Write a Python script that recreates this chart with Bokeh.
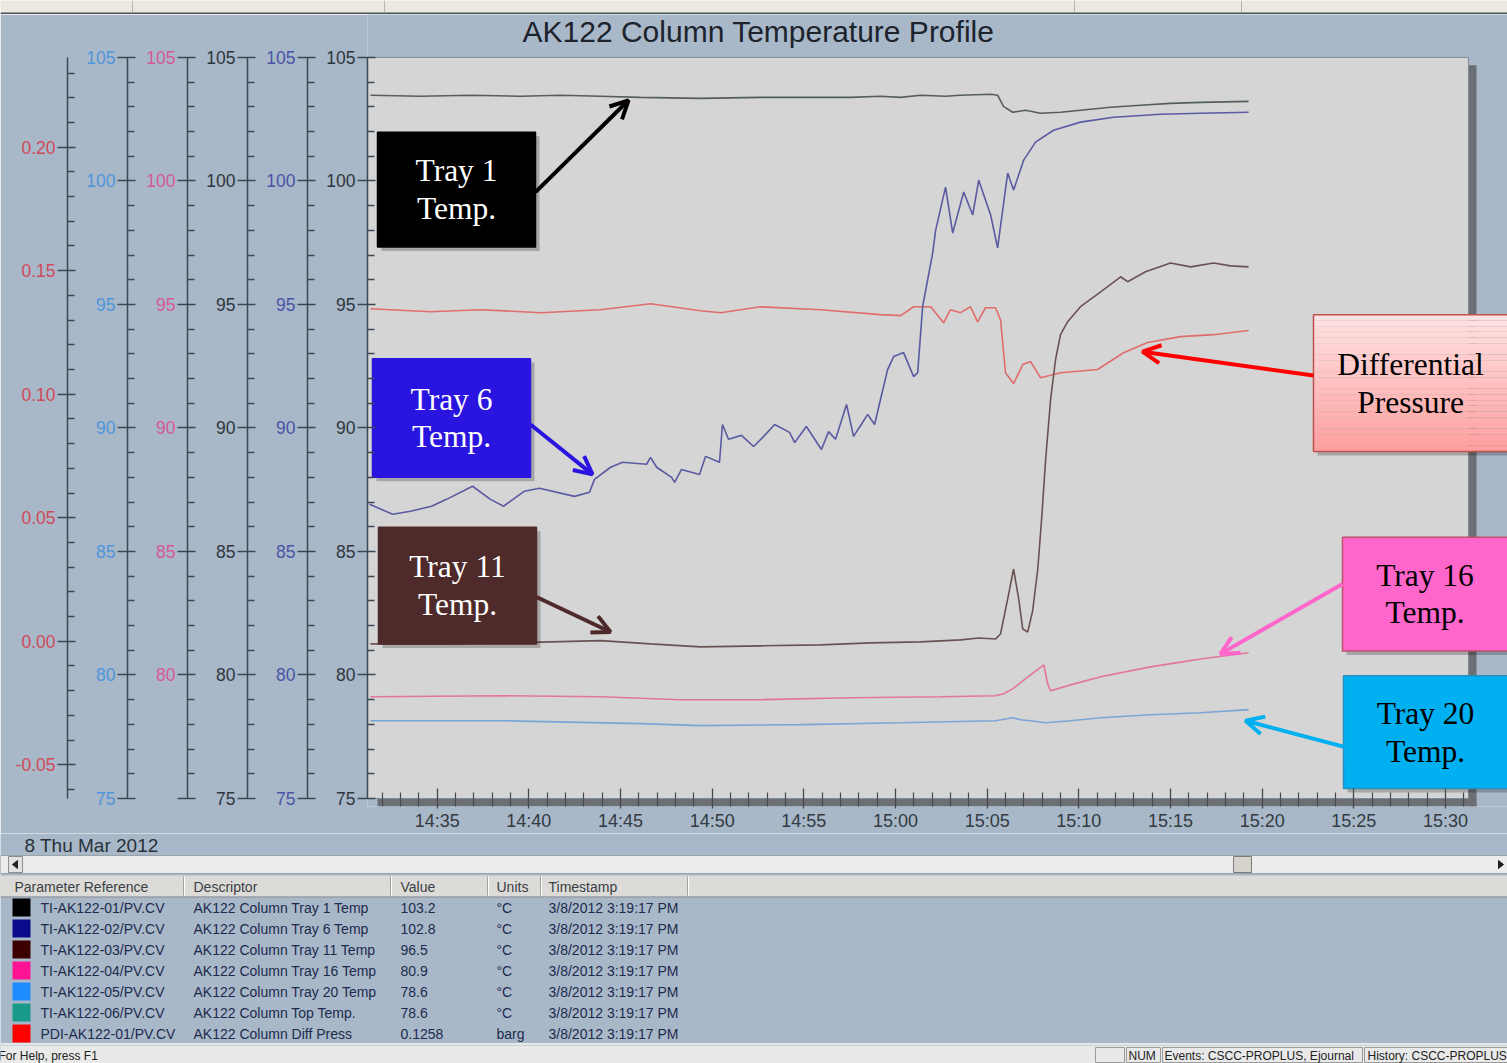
import pandas as pd
from bokeh.plotting import figure
from bokeh.models import (Range1d, LinearAxis, FixedTicker, DatetimeTickFormatter,
                          PrintfTickFormatter, Arrow, OpenHead)
from bokeh.core.properties import value
from bokeh.embed import file_html
from bokeh.resources import INLINE

# ---------------------------------------------------------------- data
title_text = "AK122 Column Temperature Profile"
date_text = "8 Thu Mar 2012"

# time = minutes after 14:00 on 8 Mar 2012
tray1_min = [31.36, 34.09, 36.82, 39.54, 41.73, 43.91, 46.09, 49.36, 52.64, 54.82, 57.55, 59.18,
             60.28, 61.37, 62.73, 63.55, 65.19, 65.57, 65.89, 66.39, 67.10, 67.91, 69.00, 70.09,
             71.73, 73.37, 75.00, 76.64, 79.26]
tray1_val = [103.47, 103.43, 103.47, 103.43, 103.47, 103.43, 103.38, 103.34, 103.38, 103.38, 103.38,
             103.43, 103.38, 103.47, 103.43, 103.47, 103.51, 103.47, 103.02, 102.78, 102.86, 102.74,
             102.78, 102.86, 102.98, 103.06, 103.14, 103.18, 103.22]

tray6_min = [31.31, 32.57, 33.55, 34.69, 35.51, 36.93, 37.91, 38.62, 39.76, 40.58, 42.49, 43.31,
             43.58, 44.46, 45.11, 46.42, 46.64, 46.97, 47.79, 47.95, 48.33, 49.31, 49.64, 50.40,
             50.56, 50.89, 51.60, 52.26, 52.80, 53.41, 54.22, 54.50, 55.14, 55.96, 56.35, 56.73,
             57.33, 57.71, 58.10, 58.48, 58.86, 59.18, 59.57, 59.90, 60.44, 60.99, 61.21, 61.48,
             62.03, 62.19, 62.73, 63.12, 63.72, 64.21, 64.54, 65.19, 65.57, 66.12, 66.44, 66.99,
             67.64, 68.62, 70.09, 71.89, 74.46, 76.64, 79.26]
tray6_val = [86.91, 86.51, 86.63, 86.83, 87.11, 87.64, 87.11, 86.83, 87.44, 87.56, 87.23, 87.40,
             87.92, 88.41, 88.61, 88.53, 88.81, 88.41, 88.00, 87.80, 88.32, 88.12, 88.85, 88.61,
             90.14, 89.54, 89.70, 89.25, 89.65, 90.14, 89.82, 89.41, 90.06, 89.13, 89.85, 89.54,
             90.95, 89.66, 90.10, 90.55, 90.14, 91.15, 92.36, 92.89, 93.05, 92.08, 92.24, 94.91,
             97.09, 98.01, 99.75, 97.89, 99.55, 98.62, 100.03, 98.62, 97.29, 100.32, 99.63, 100.84,
             101.57, 102.05, 102.38, 102.58, 102.70, 102.74, 102.78]

tray11_min = [31.36, 35.73, 39.54, 43.91, 46.64, 49.36, 52.64, 55.91, 58.64, 61.37, 63.55, 64.54,
              65.46, 65.73, 66.12, 66.44, 66.72, 66.94, 67.21, 67.48, 67.76, 67.97, 68.19, 68.46,
              68.73, 69.00, 69.39, 70.09, 71.19, 72.28, 72.66, 73.64, 75.00, 76.10, 77.35, 78.28,
              79.26]
tray11_val = [81.26, 81.26, 81.31, 81.39, 81.26, 81.14, 81.18, 81.22, 81.30, 81.34, 81.42, 81.50,
              81.46, 81.66, 83.08, 84.29, 83.08, 81.86, 81.74, 82.59, 84.29, 86.31, 88.73, 91.15,
              92.77, 93.78, 94.30, 94.91, 95.51, 96.12, 95.92, 96.32, 96.68, 96.52, 96.68, 96.56,
              96.52]

tray16_min = [31.36, 38.46, 43.91, 48.28, 52.64, 57.55, 62.46, 65.46, 65.89, 66.39, 67.10, 68.09,
              68.30, 68.46, 69.55, 71.19, 73.91, 76.64, 79.26]
tray16_val = [79.12, 79.16, 79.12, 79.00, 79.00, 79.08, 79.12, 79.16, 79.24, 79.44, 79.85, 80.41,
              79.64, 79.36, 79.60, 79.93, 80.33, 80.65, 80.90]

tray20_min = [31.36, 38.46, 46.09, 49.36, 54.82, 60.28, 65.46, 66.39, 66.83, 67.37, 68.19, 69.55,
              71.19, 73.91, 76.64, 79.26]
tray20_val = [78.15, 78.15, 78.03, 77.95, 77.99, 78.07, 78.15, 78.27, 78.19, 78.15, 78.07, 78.15,
              78.27, 78.39, 78.47, 78.60]

dp_min = [31.36, 34.64, 37.37, 40.64, 43.91, 46.64, 49.36, 50.46, 52.64, 55.91, 59.18, 60.28,
          60.99, 61.92, 62.62, 63.00, 63.55, 64.09, 64.48, 64.91, 65.46, 65.73, 66.00, 66.44,
          66.94, 67.37, 67.91, 69.00, 71.02, 72.44, 73.75, 75.55, 77.35, 79.26]
dp_val = [0.1346, 0.1334, 0.1342, 0.1330, 0.1342, 0.1366, 0.1338, 0.1330, 0.1354, 0.1342, 0.1322,
          0.1318, 0.1354, 0.1354, 0.1289, 0.1342, 0.1330, 0.1354, 0.1293, 0.1350, 0.1350, 0.1301,
          0.1087, 0.1043, 0.1120, 0.1132, 0.1067, 0.1087, 0.1100, 0.1168, 0.1209, 0.1233, 0.1241,
          0.1258]

temp_major = [75, 80, 85, 90, 95, 100, 105]
temp_minor = [v for v in range(76, 105) if v % 5]
dp_major = [-0.05, 0.0, 0.05, 0.10, 0.15, 0.20]
dp_minor = [i / 100 for i in range(-6, 24) if i % 5]
time_major_min = list(range(35, 91, 5))          # 14:35 ... 15:30
time_minor_min = [m for m in range(32, 92) if m % 5]

param_refs = ["TI-AK122-01/PV.CV", "TI-AK122-02/PV.CV", "TI-AK122-03/PV.CV", "TI-AK122-04/PV.CV",
              "TI-AK122-05/PV.CV", "TI-AK122-06/PV.CV", "PDI-AK122-01/PV.CV"]
descriptors = ["AK122 Column Tray 1 Temp", "AK122 Column Tray 6 Temp", "AK122 Column Tray 11 Temp",
               "AK122 Column Tray 16 Temp", "AK122 Column Tray 20 Temp", "AK122 Column Top Temp.",
               "AK122 Column Diff Press"]
cur_values = ["103.2", "102.8", "96.5", "80.9", "78.6", "78.6", "0.1258"]
units = ["°C", "°C", "°C", "°C", "°C", "°C", "barg"]
timestamps = ["3/8/2012 3:19:17 PM"] * 7
swatch_colors = ["#000000", "#0a0a8c", "#3c0000", "#ff1493", "#1e8cff", "#1a9a8a", "#ff0000"]
header_text = ["Parameter Reference", "Descriptor", "Value", "Units", "Timestamp"]
status_texts = ["For Help, press F1", "NUM", "Events: CSCC-PROPLUS, Ejournal", "History: CSCC-PROPLUS"]

# ---------------------------------------------------------------- geometry (page px)
FIG_W = 1507
C_BOTTOM, A_BOTTOM, B_BOTTOM = 14, 833, 1063
FRAME_L, FRAME_R, FRAME_T, FRAME_B = 367, 1507, 14, 808
PLOT_T, PLOT_B, PLOT_R = 57, 800, 1468
PX_PER_MIN = 1100 / 60.0
T_LEFT = 31.2
PX_PER_DEG = (PLOT_B - PLOT_T) / 30.0
DP_PER_PX = 0.30 / (PLOT_B - PLOT_T)
DP_AT_TOP = 0.20 + (147 - PLOT_T) * DP_PER_PX
BASE_MS = pd.Timestamp("2012-03-08 14:00:00").value / 1e6


def min_to_ms(m):
    return BASE_MS + m * 60000.0


def px_to_ms(px):
    return min_to_ms(T_LEFT + (px - FRAME_L) / PX_PER_MIN)


def py_to_deg(py):
    return 105.0 - (py - PLOT_T) / PX_PER_DEG


def py_to_dp(py):
    return DP_AT_TOP - (py - PLOT_T) * DP_PER_PX


PANEL = "#a8b8c8"
AXIS_C = "#3e4852"
SANS = "Liberation Sans"
SERIF = "Liberation Serif"

# ---------------------------------------------------------------- figure C (window strip)
pC = figure(width=FIG_W, height=C_BOTTOM, x_range=Range1d(0, FIG_W), y_range=Range1d(C_BOTTOM, 0),
            output_backend="svg", toolbar_location=None, min_border=0,
            x_axis_location=None, y_axis_location=None,
            background_fill_color="#ebe8e1", border_fill_color="#ebe8e1", outline_line_color=None)
pC.grid.visible = False
pC.segment(x0=0, x1=FIG_W, y0=13, y1=13, line_color="#4a5058", line_width=2)
strip_div = [132, 384, 1074, 1241]
pC.segment(x0=strip_div, x1=strip_div, y0=[0] * 4, y1=[12] * 4, line_color="#b8b4ac", line_width=1)

# ---------------------------------------------------------------- figure A (trend)
temp_rng = lambda: Range1d(py_to_deg(FRAME_B), py_to_deg(FRAME_T))
pA = figure(width=FIG_W, height=A_BOTTOM - C_BOTTOM, x_axis_type="datetime",
            x_range=Range1d(px_to_ms(FRAME_L), px_to_ms(FRAME_R)), y_range=temp_rng(),
            output_backend="svg", toolbar_location=None, min_border=0,
            min_border_left=FRAME_L, min_border_bottom=A_BOTTOM - FRAME_B,
            background_fill_color=PANEL, border_fill_color=PANEL, outline_line_color=None)
pA.extra_y_ranges = {"tray6": temp_rng(), "tray11": temp_rng(), "tray16": temp_rng(),
                     "tray20": temp_rng(),
                     "dp": Range1d(py_to_dp(FRAME_B), py_to_dp(FRAME_T))}
pA.xgrid.visible = False
pA.ygrid.visible = False


def style_axis(ax, color, major, minor, bounds, pad=True):
    ax.ticker = FixedTicker(ticks=major, minor_ticks=minor)
    ax.bounds = bounds
    ax.axis_line_color = AXIS_C
    ax.axis_line_width = 1.5
    ax.major_tick_line_color = AXIS_C
    ax.minor_tick_line_color = AXIS_C
    ax.major_tick_line_width = 1.3
    ax.minor_tick_line_width = 1.3
    ax.major_tick_in = 8
    ax.major_tick_out = 10
    ax.minor_tick_in = 7
    ax.minor_tick_out = 0
    ax.major_label_text_color = color
    ax.major_label_text_font = SANS
    ax.major_label_text_font_size = "17.5px"
    ax.major_label_standoff = 2
    if pad:
        ax.axis_label = " "
        ax.axis_label_text_font_size = "10px"
        ax.axis_label_standoff = 2


style_axis(pA.yaxis[0], "#30363e", temp_major, temp_minor, (75, 105))
for name, col in [("tray6", "#4a54a6"), ("tray11", "#30363e"), ("tray16", "#d4589a"),
                  ("tray20", "#4f95db")]:
    ax = LinearAxis(y_range_name=name)
    style_axis(ax, col, temp_major, temp_minor, (75, 105))
    if name == "tray16":
        ax.major_label_overrides = {75: ""}
    pA.add_layout(ax, "left")
dp_ax = LinearAxis(y_range_name="dp", formatter=PrintfTickFormatter(format="%.2f"))
style_axis(dp_ax, "#d04a5a", dp_major, dp_minor, (py_to_dp(PLOT_B), py_to_dp(PLOT_T)), pad=False)
pA.add_layout(dp_ax, "left")

xa = pA.xaxis[0]
xa.ticker = FixedTicker(ticks=[min_to_ms(m) for m in time_major_min],
                        minor_ticks=[min_to_ms(m) for m in time_minor_min])
xa.formatter = DatetimeTickFormatter(seconds="%H:%M", minsec="%H:%M", minutes="%H:%M",
                                     hourmin="%H:%M", hours="%H:%M")
xa.bounds = (px_to_ms(FRAME_L), px_to_ms(PLOT_R))
xa.axis_line_color = None
xa.major_tick_line_color = "#454b50"
xa.minor_tick_line_color = "#454b50"
xa.major_tick_line_width = 1.3
xa.minor_tick_line_width = 1.2
xa.major_tick_in = 18
xa.major_tick_out = 2
xa.minor_tick_in = 14
xa.minor_tick_out = 0
xa.major_label_text_font = SANS
xa.major_label_text_font_size = "18px"
xa.major_label_text_color = "#333a42"
xa.major_label_standoff = 2

# title
pA.text(x=[px_to_ms(758)], y=[py_to_deg(31)], text=[title_text], text_align="center",
        text_baseline="middle", text_font=value(SANS), text_font_size="30px", text_color="#1c232c")

# plot area with shadow
pA.quad(left=px_to_ms(PLOT_R), right=px_to_ms(PLOT_R + 8), top=py_to_deg(PLOT_T + 8),
        bottom=py_to_deg(PLOT_B + 8), fill_color="#6c7074", line_color=None)
pA.quad(left=px_to_ms(FRAME_L + 10), right=px_to_ms(PLOT_R + 8), top=py_to_deg(PLOT_B),
        bottom=py_to_deg(PLOT_B + 8), fill_color="#6c7074", line_color=None)
pA.quad(left=px_to_ms(FRAME_L), right=px_to_ms(PLOT_R), top=105, bottom=75,
        fill_color="#d5d5d5", line_color="#7f8c98", line_width=1)

# series
to_ms = lambda lst: [min_to_ms(m) for m in lst]
pA.line(to_ms(tray20_min), tray20_val, line_color="#7aa6d4", line_width=1.6, y_range_name="tray20")
pA.line(to_ms(tray16_min), tray16_val, line_color="#e2759c", line_width=1.6, y_range_name="tray16")
pA.line(to_ms(dp_min), dp_val, line_color="#e06c6c", line_width=1.6, y_range_name="dp")
pA.line(to_ms(tray11_min), tray11_val, line_color="#6b5252", line_width=1.6, y_range_name="tray11")
pA.line(to_ms(tray6_min), tray6_val, line_color="#5a5aa2", line_width=1.6, y_range_name="tray6")
pA.line(to_ms(tray1_min), tray1_val, line_color="#555e5e", line_width=1.6)

# call-out boxes (page px)
callouts = [
    dict(box=(377, 535, 132, 247), fill="#000000", line="#000000", text=["Tray 1", "Temp."],
         tc="#ffffff", arrow=((535, 192), (628, 100)), ac="#000000"),
    dict(box=(372, 530, 359, 478), fill="#2a14e0", line="#2a14e0", text=["Tray 6", "Temp."],
         tc="#ffffff", arrow=((530, 425), (592, 475)), ac="#2a14e0"),
    dict(box=(378, 536, 528, 645), fill="#4e2a2a", line="#4e2a2a", text=["Tray 11", "Temp."],
         tc="#ffffff", arrow=((536, 598), (610, 633)), ac="#4e2a2a"),
    dict(box=(1313, 1515, 315, 452), fill=None, line="#c0504d", text=["Differential", "Pressure"],
         tc="#000000", arrow=((1313, 376), (1142, 352)), ac="#ff0000"),
    dict(box=(1342, 1515, 538, 652), fill="#ff66cc", line="#c0506e", text=["Tray 16", "Temp."],
         tc="#000000", arrow=((1342, 585), (1220, 655)), ac="#ff66cc"),
    dict(box=(1343, 1515, 677, 790), fill="#00b0f0", line="#2a8fc0", text=["Tray 20", "Temp."],
         tc="#000000", arrow=((1343, 748), (1245, 722)), ac="#00b0f0"),
]
for c in callouts:
    (x0, y0), (x1, y1) = c["arrow"]
    pA.add_layout(Arrow(end=OpenHead(line_color=c["ac"], line_width=4, size=18),
                        x_start=px_to_ms(x0), y_start=py_to_deg(y0),
                        x_end=px_to_ms(x1), y_end=py_to_deg(y1),
                        line_color=c["ac"], line_width=4))
for c in callouts:
    l, r, t, b = c["box"]
    pA.quad(left=px_to_ms(l + 4), right=px_to_ms(r + 4), top=py_to_deg(t + 4), bottom=py_to_deg(b + 4),
            fill_color="#000000", fill_alpha=0.22, line_color=None)
    if c["fill"] is None:
        n = 24
        for i in range(n):
            f = i / (n - 1)
            g = int(226 - f * (226 - 160))
            col = "#ff%02x%02x" % (g, g)
            yt = t + (b - t) * i / n
            yb = t + (b - t) * (i + 1) / n
            pA.quad(left=px_to_ms(l), right=px_to_ms(r), top=py_to_deg(yt), bottom=py_to_deg(yb),
                    fill_color=col, line_color=None)
        pA.quad(left=px_to_ms(l), right=px_to_ms(r), top=py_to_deg(t), bottom=py_to_deg(b),
                fill_color=None, line_color=c["line"], line_width=1.5)
    else:
        pA.quad(left=px_to_ms(l), right=px_to_ms(r), top=py_to_deg(t), bottom=py_to_deg(b),
                fill_color=c["fill"], line_color=c["line"], line_width=1.5)
    cx = (l + min(r, 1507)) / 2.0
    cy = (t + b) / 2.0
    pA.text(x=[px_to_ms(cx), px_to_ms(cx)], y=[py_to_deg(cy - 19), py_to_deg(cy + 19)],
            text=c["text"], text_align="center", text_baseline="middle",
            text_font=value(SERIF), text_font_size="31.5px", text_color=c["tc"])

# ---------------------------------------------------------------- figure B (table / status)
pB = figure(width=FIG_W, height=B_BOTTOM - A_BOTTOM, x_range=Range1d(0, FIG_W),
            y_range=Range1d(B_BOTTOM, A_BOTTOM), output_backend="svg", toolbar_location=None,
            min_border=0, x_axis_location=None, y_axis_location=None,
            background_fill_color=PANEL, border_fill_color=PANEL, outline_line_color=None)
pB.grid.visible = False

pB.text(x=[24], y=[845], text=[date_text], text_baseline="middle", text_font=value(SANS),
        text_font_size="19px", text_color="#2a313a")

# scrollbar
pB.quad(left=0, right=FIG_W, top=855, bottom=873, fill_color="#ececec", line_color="#9ba2a8")
pB.quad(left=8, right=22, top=856, bottom=872, fill_color="#e2e2e2", line_color="#8c8c8c")
pB.patch(x=[12, 17, 17], y=[864, 860, 868], fill_color="#202020", line_color="#202020")
pB.quad(left=1233, right=1251, top=856, bottom=872, fill_color="#d6d3cc", line_color="#7c7c7c")
pB.patch(x=[1503, 1498, 1498], y=[864, 860, 868], fill_color="#202020", line_color="#202020")

# table header
pB.quad(left=0, right=FIG_W, top=875, bottom=896, fill_color="#dcdbd7", line_color=None)
pB.segment(x0=0, x1=FIG_W, y0=896.5, y1=896.5, line_color="#8a8f94", line_width=1)
col_sep = [183, 390, 487, 540, 687]
pB.segment(x0=col_sep, x1=col_sep, y0=[876] * 5, y1=[895] * 5, line_color="#a0a0a0", line_width=1)
pB.segment(x0=[c + 1 for c in col_sep], x1=[c + 1 for c in col_sep], y0=[876] * 5, y1=[895] * 5,
           line_color="#ffffff", line_width=1)
pB.text(x=[14, 193, 400, 496, 548], y=[886] * 5, text=header_text, text_baseline="middle",
        text_font=value(SANS), text_font_size="14px", text_color="#3a3f46")

# rows
row_y = [907 + 21 * i for i in range(len(param_refs))]
pB.quad(left=[12] * 7, right=[30] * 7, top=[y - 9 for y in row_y], bottom=[y + 9 for y in row_y],
        fill_color=swatch_colors, line_color=None)
for xcol, txt in [(40, param_refs), (193, descriptors), (400, cur_values), (496, units),
                  (548, timestamps)]:
    pB.text(x=[xcol] * 7, y=row_y, text=txt, text_baseline="middle", text_font=value(SANS),
            text_font_size="14px", text_color="#1e2a4e")

# status bar
pB.segment(x0=0, x1=FIG_W, y0=1043.5, y1=1043.5, line_color="#e6e6e6", line_width=2)
pB.quad(left=0, right=FIG_W, top=1045, bottom=1063, fill_color="#e9e9e9", line_color=None)
for l, r in [(1095, 1124), (1126, 1160), (1162, 1362), (1364, 1510)]:
    pB.quad(left=l, right=r, top=1047, bottom=1062, fill_color=None, line_color="#9a9a9a")
pB.text(x=[-2, 1128, 1164, 1367], y=[1055] * 4, text=status_texts, text_baseline="middle",
        text_font=value(SANS), text_font_size="12px", text_color="#222222")

open("out.html", "w").write(file_html([pC, pA, pB], INLINE, title=title_text))
